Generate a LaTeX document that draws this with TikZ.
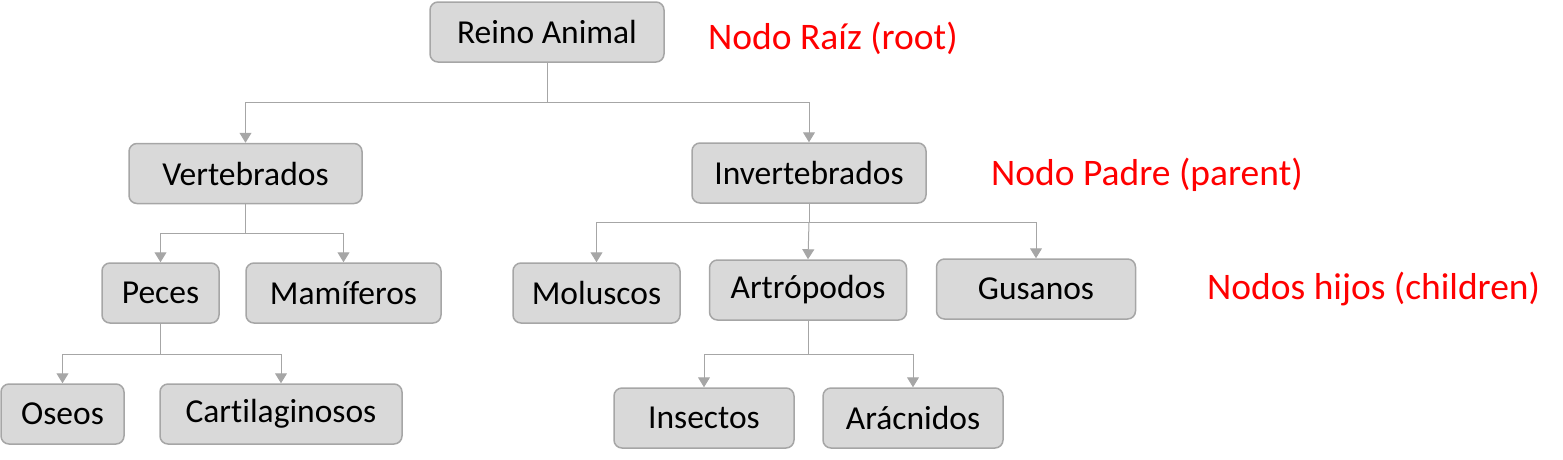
\documentclass[tikz,border=0pt]{standalone}
\usepackage{fontspec}
\setmainfont{Carlito}[Ligatures=NoCommon]
\usetikzlibrary{arrows.meta}
\definecolor{boxfill}{HTML}{D9D9D9}
\definecolor{boxline}{HTML}{A6A6A6}
\definecolor{conn}{HTML}{A6A6A6}
\definecolor{lblred}{HTML}{FF0000}
\tikzset{
  box/.style={draw=boxline, line width=1.5pt, fill=boxfill, rounded corners=8pt,
    minimum height=60pt, inner sep=0pt, font=\fontsize{33.5}{38}\selectfont, text=black},
  link/.style={draw=conn, line width=1pt},
  linkarrow/.style={link, -{Triangle[width=12pt,length=10pt]}},
  lbl/.style={text=lblred, font=\fontsize{37.5}{42}\selectfont, inner sep=0pt}
}
\begin{document}
\begin{tikzpicture}[x=1pt, y=-1pt]
\useasboundingbox (0,0) rectangle (1563,459);
% nodes
\node[box, minimum width=234pt] (root) at (547,32) {Reino Animal};
\node[box, minimum width=233pt] (vert) at (245.5,173.5) {Vertebrados};
\node[box, minimum width=234pt] (invert) at (809,173) {Invertebrados};
\node[box, minimum width=117pt] (peces) at (160.5,293) {Peces};
\node[box, minimum width=195pt] (mamif) at (343.5,293) {Mamíferos};
\node[box, minimum width=123pt] (oseos) at (62.5,414) {Oseos};
\node[box, minimum width=242pt] (cartil) at (281,414) {Cartilaginosos};
\node[box, minimum width=167pt] (molus) at (596.5,293) {Moluscos};
\node[box, minimum width=197pt] (artro) at (808,290) {Artrópodos};
\node[box, minimum width=199pt] (gusan) at (1036,289) {Gusanos};
\node[box, minimum width=180pt] (insec) at (704,418) {Insectos};
\node[box, minimum width=180pt] (arac) at (913,418) {Arácnidos};
% labels
\node[lbl, anchor=west] (lroot) at (708,38) {Nodo Raíz (root)};
\node[lbl, anchor=west] (lpadre) at (991,175) {Nodo Padre (parent)};
\node[lbl, anchor=west] (lhijos) at (1207,289) {Nodos hijos (children)};
% junctions
\coordinate (j1) at (547,102);
\coordinate (j2) at (245.5,233);
\coordinate (j3) at (160.5,354);
\coordinate (j4) at (809,222);
\coordinate (j5) at (808,354);
% connectors
\draw[link] (root.south) -- (j1);
\draw[linkarrow] (j1) -| (vert.north);
\draw[linkarrow] (j1) -| (invert.north);
\draw[link] (vert.south) -- (j2);
\draw[linkarrow] (j2) -| (peces.north);
\draw[linkarrow] (j2) -| (mamif.north);
\draw[link] (peces.south) -- (j3);
\draw[linkarrow] (j3) -| (oseos.north);
\draw[linkarrow] (j3) -| (cartil.north);
\draw[link] (invert.south) -- (j4);
\draw[linkarrow] (j4) -| (molus.north);
\draw[linkarrow] (j4) -- (artro.north);
\draw[linkarrow] (j4) -| (gusan.north);
\draw[link] (artro.south) -- (j5);
\draw[linkarrow] (j5) -| (insec.north);
\draw[linkarrow] (j5) -| (arac.north);
\end{tikzpicture}
\end{document}
